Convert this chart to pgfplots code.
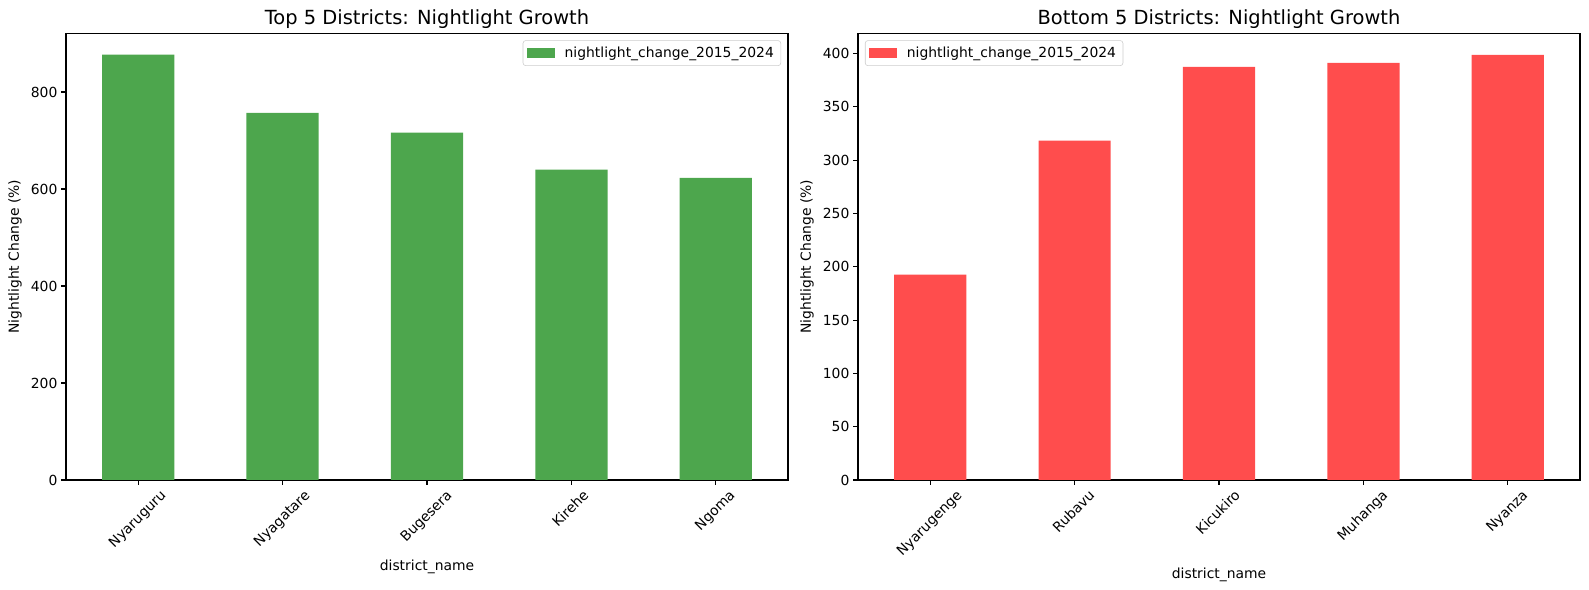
\documentclass[border=0pt]{standalone}
\usepackage{fontspec}
\setmainfont{DejaVu Sans}
\usepackage{graphicx}
\usepackage{pgfplots}
\pgfplotsset{compat=1.18}

\definecolor{bargreen}{HTML}{4DA64D}
\definecolor{barred}{HTML}{FF4D4D}

\newcommand{\rl}[1]{\rotatebox{45}{\strut #1}}

\pgfplotsset{
  mplbar/.style={
    scale only axis,
    width=519.84pt, height=321.6pt,
    anchor=south west,
    xmin=-0.5, xmax=4.5,
    ymin=0,
    xtick={0,1,2,3,4},
    tick align=outside,
    xtick pos=bottom, ytick pos=left,
    major tick length=3.5pt,
    every tick/.style={black, line width=0.8pt},
    axis line style={line width=0.8pt},
    /pgf/number format/assume math mode=true,
    tick label style={font=\fontsize{10}{12}\selectfont},
    xticklabel style={anchor=north, inner sep=2pt},
    yticklabel style={inner sep=2.5pt},
    label style={font=\fontsize{10}{12}\selectfont},
    xlabel={district\_name},
    ylabel={Nightlight Change (\%)},
    ylabel style={at={(axis description cs:0,0.5)}, anchor=center, yshift=36.7pt},
    title style={font=\fontsize{14}{17}\selectfont, at={(0.5,1)}, anchor=base},
    ybar, bar width=0.5,
    legend cell align=left,
    legend style={draw=black!20, rounded corners=2pt, fill=white,
      font=\fontsize{10}{12}\selectfont, inner xsep=3pt, inner ysep=2.5pt},
    legend image code/.code={\fill[##1, sharp corners] (0pt,-3.5pt) rectangle (20pt,3.5pt);
      \path (25pt,0pt);},
  }
}

\begin{document}
\begin{tikzpicture}
\path[use as bounding box] (0,0) rectangle (1144.08pt,424.8pt);

\begin{axis}[mplbar,
    at={(47.52pt,79.2pt)},
    ymax=921,
    ytick={0,200,400,600,800},
    title={Top 5 Districts: Nightlight Growth},
    xticklabels={\rl{Nyaruguru},\rl{Nyagatare},\rl{Bugesera},\rl{Kirehe},\rl{Ngoma}},
    legend style={at={(1,1)}, anchor=north east, xshift=-5pt, yshift=-5pt},
  ]
  \addplot[draw=none, fill=bargreen] coordinates {
    (0, 877)
    (1, 757)
    (2, 716)
    (3, 640)
    (4, 623)};
  \addlegendentry{nightlight\_change\_2015\_2024}
\end{axis}

\begin{axis}[mplbar,
    at={(617.76pt,79.2pt)},
    ymax=419,
    ytick={0,50,100,150,200,250,300,350,400},
    title={Bottom 5 Districts: Nightlight Growth},
    xticklabels={\rl{Nyarugenge},\rl{Rubavu},\rl{Kicukiro},\rl{Muhanga},\rl{Nyanza}},
    legend style={at={(0,1)}, anchor=north west, xshift=5pt, yshift=-5pt},
  ]
  \addplot[draw=none, fill=barred] coordinates {
    (0, 192.7)
    (1, 318.3)
    (2, 387.6)
    (3, 391.4)
    (4, 398.9)};
  \addlegendentry{nightlight\_change\_2015\_2024}
\end{axis}
\end{tikzpicture}
\end{document}
